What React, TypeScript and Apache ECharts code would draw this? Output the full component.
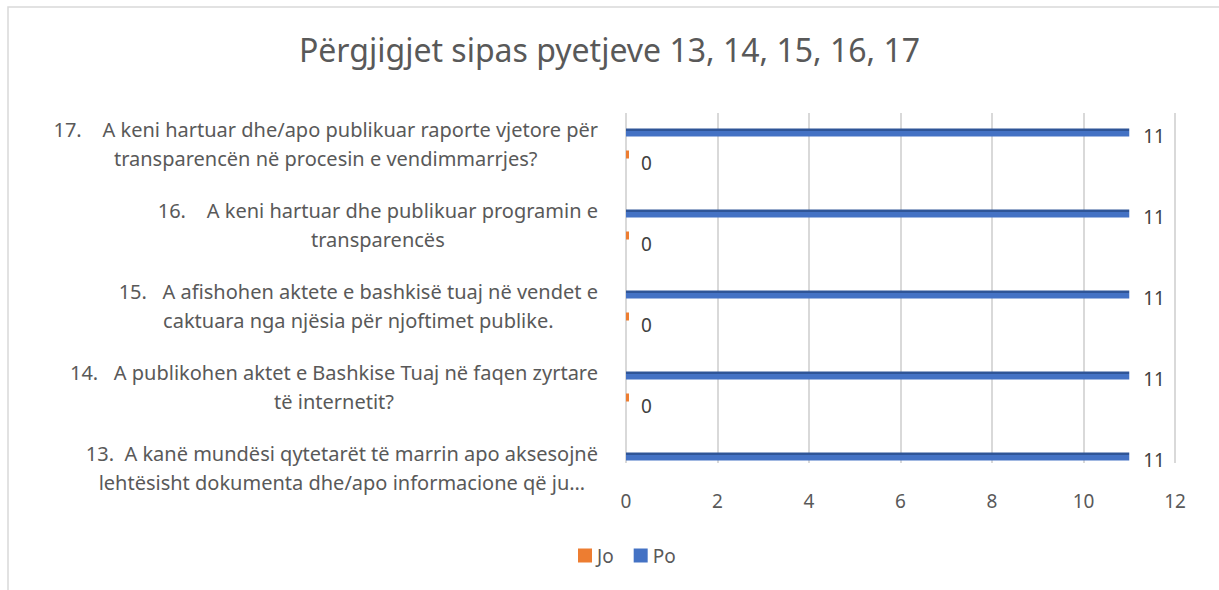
import React, { useEffect, useRef } from "react";
import * as echarts from "echarts";

const title = "Përgjigjet sipas pyetjeve 13, 14, 15, 16, 17";
const categories = [
  "13.  A kanë mundësi qytetarët të marrin apo aksesojnë\nlehtësisht dokumenta dhe/apo informacione që ju…",
  "14.   A publikohen aktet e Bashkise Tuaj në faqen zyrtare\ntë internetit?",
  "15.   A afishohen aktete e bashkisë tuaj në vendet e\ncaktuara nga njësia për njoftimet publike.",
  "16.    A keni hartuar dhe publikuar programin e\ntransparencës",
  "17.    A keni hartuar dhe/apo publikuar raporte vjetore për\ntransparencën në procesin e vendimmarrjes?",
];
const seriesNames = ["Jo", "Po"];
const joValues = [0, 0, 0, 0, 0];
const poValues = [11, 11, 11, 11, 11];
const xTicks = { min: 0, max: 12, interval: 2 };

const FONT = "'Noto Sans', sans-serif";

export default function App() {
  const ref = useRef<HTMLDivElement>(null);
  useEffect(() => {
    if (!ref.current) return;
    const chart = echarts.init(ref.current, null, { renderer: "svg" });
    const blueFill = new echarts.graphic.LinearGradient(0, 0, 0, 1, [
      { offset: 0, color: "#2F5597" },
      { offset: 0.3, color: "#2F5597" },
      { offset: 0.3, color: "#4472C4" },
      { offset: 1, color: "#4472C4" },
    ]);
    chart.setOption({
      animation: false,
      backgroundColor: "#fff",
      title: {
        text: title,
        left: "center",
        top: 28,
        textStyle: { fontFamily: FONT, fontSize: 32, fontWeight: "normal", color: "#595959" },
      },
      legend: {
        data: [
          { name: seriesNames[0], itemStyle: { color: "#ED7D31", borderWidth: 0 } },
          { name: seriesNames[1], itemStyle: { color: "#4472C4", borderWidth: 0 } },
        ],
        bottom: 20,
        left: 573,
        itemWidth: 14,
        itemHeight: 14,
        itemGap: 20,
        icon: "rect",
        symbolKeepAspect: false,
        itemStyle: { borderWidth: 0 },
        textStyle: { fontFamily: FONT, fontSize: 19, color: "#595959" },
      },
      graphic: [
        {
          type: "rect",
          shape: { x: 8, y: 7, width: 1230, height: 600 },
          style: { fill: "none", stroke: "#D9D9D9", lineWidth: 1.5 },
          silent: true,
        },
      ],
      grid: [
        { left: 626, right: 44, top: 103, bottom: 82 },
        { left: 626, right: 44, top: 113, bottom: 127 },
      ],
      xAxis: [
        { gridIndex: 0, type: "value", ...xTicks, show: false },
        {
          gridIndex: 1,
          type: "value",
          ...xTicks,
          axisLine: { show: false },
          axisTick: { show: false },
          splitLine: { show: true, lineStyle: { color: "#D9D9D9", width: 2 } },
          axisLabel: { margin: 28, fontFamily: FONT, fontSize: 19, color: "#595959" },
        },
      ],
      yAxis: [
        {
          gridIndex: 0,
          type: "category",
          data: categories,
          axisLine: { show: false },
          axisTick: { show: false },
          splitLine: { show: false },
          axisLabel: {
            margin: 28,
            align: "right",
            fontFamily: FONT,
            fontSize: 20,
            color: "#595959",
            lineHeight: 29,
            formatter: (v: string) =>
              v
                .split("\n")
                .map((l) => `{c|${l}}`)
                .join("\n"),
            rich: {
              c: { align: "center", fontFamily: FONT, fontSize: 20, color: "#595959", lineHeight: 29 },
            },
          },
        },
        { gridIndex: 1, type: "category", data: categories, show: false },
      ],
      series: [
        {
          name: "Po",
          type: "bar",
          xAxisIndex: 0,
          yAxisIndex: 0,
          data: poValues,
          barWidth: 8,
          barGap: "175%",
          itemStyle: { color: blueFill },
          label: {
            show: true,
            position: "right",
            distance: 14,
            offset: [0, 3],
            fontFamily: FONT,
            fontSize: 19,
            color: "#404040",
          },
        },
        {
          name: "Jo",
          type: "bar",
          xAxisIndex: 0,
          yAxisIndex: 0,
          barWidth: 8,
          barMinHeight: 3,
          data: joValues.map((v, i) =>
            i === 0 ? { value: v, itemStyle: { opacity: 0 }, label: { show: false } } : v
          ),
          itemStyle: { color: "#ED7D31" },
          label: {
            show: true,
            position: "right",
            distance: 12,
            offset: [0, 8],
            fontFamily: FONT,
            fontSize: 19,
            color: "#404040",
          },
        },
      ],
    });
    return () => chart.dispose();
  }, []);
  return (
    <div
      ref={ref}
      style={{ position: "absolute", left: 0, top: 0, width: 1219, height: 590 }}
    />
  );
}
